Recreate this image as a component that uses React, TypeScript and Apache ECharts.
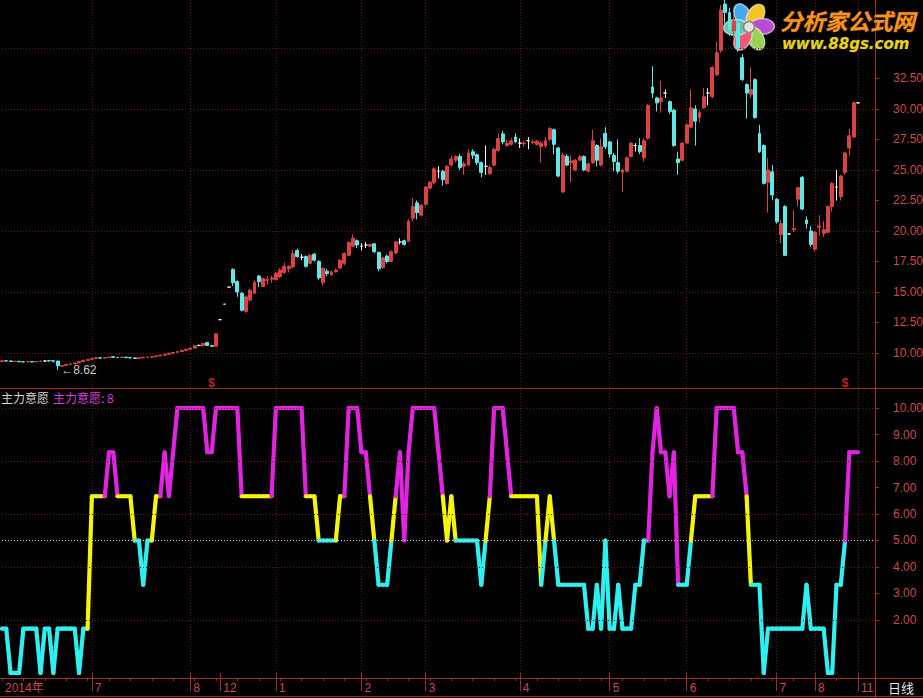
import React, { useEffect, useRef } from 'react';
import * as echarts from 'echarts';

// ---------------- data ----------------
const monthLabels = ['2014年', '7', '8', '12', '1', '2', '3', '4', '5', '6', '7', '8', '11'];
const monthBarCounts = [21, 23, 7, 13, 20, 15, 22, 21, 18, 21, 9, 10, 1];
const monthsWithoutGridLine = [0, 3];
const padBars = 4;

// [open, close, low, high]
const ohlc: number[][] = [
  // Jun 2014
  [9.30, 9.36, 9.28, 9.38], [9.36, 9.35, 9.30, 9.40], [9.35, 9.30, 9.26, 9.38], [9.30, 9.32, 9.25, 9.36],
  [9.32, 9.28, 9.24, 9.34], [9.28, 9.27, 9.23, 9.31], [9.27, 9.29, 9.24, 9.32], [9.29, 9.27, 9.25, 9.31],
  [9.27, 9.30, 9.25, 9.33], [9.30, 9.34, 9.28, 9.36], [9.34, 9.34, 9.26, 9.37], [9.38, 9.36, 9.28, 9.40],
  [9.36, 9.34, 9.22, 9.38], [9.34, 8.95, 8.62, 9.36], [8.92, 8.98, 8.85, 9.02], [8.98, 9.05, 8.94, 9.08],
  [9.05, 9.10, 9.00, 9.14], [9.10, 9.18, 9.06, 9.20], [9.18, 9.30, 9.15, 9.33], [9.30, 9.40, 9.28, 9.45],
  [9.40, 9.46, 9.36, 9.50],
  // Jul 2014
  [9.48, 9.55, 9.44, 9.58], [9.55, 9.60, 9.50, 9.64], [9.60, 9.58, 9.54, 9.66], [9.58, 9.62, 9.55, 9.66],
  [9.62, 9.66, 9.58, 9.70], [9.70, 9.64, 9.60, 9.72], [9.64, 9.63, 9.58, 9.68], [9.63, 9.66, 9.60, 9.70],
  [9.66, 9.62, 9.58, 9.68], [9.62, 9.60, 9.56, 9.65], [9.60, 9.55, 9.52, 9.63], [9.55, 9.60, 9.52, 9.62],
  [9.60, 9.65, 9.58, 9.68], [9.65, 9.66, 9.62, 9.70], [9.66, 9.70, 9.62, 9.72], [9.70, 9.76, 9.66, 9.78],
  [9.76, 9.82, 9.72, 9.85], [9.82, 9.90, 9.78, 9.93], [9.90, 9.98, 9.86, 10.02], [9.98, 10.05, 9.94, 10.08],
  [10.05, 10.12, 10.00, 10.16], [10.12, 10.22, 10.08, 10.26], [10.22, 10.30, 10.18, 10.34],
  // Aug 2014
  [10.30, 10.40, 10.26, 10.44], [10.40, 10.60, 10.36, 10.64], [10.62, 10.62, 10.55, 10.68], [10.60, 10.78, 10.55, 10.82],
  [10.85, 10.62, 10.58, 10.88], [10.62, 10.55, 10.50, 10.65], [10.55, 11.57, 10.52, 11.60],
  // Dec 2014
  [12.73, 12.73, 12.73, 12.73], [14.00, 14.00, 14.00, 14.00], [15.40, 15.40, 15.40, 15.40], [16.85, 15.75, 15.50, 16.94],
  [15.85, 15.00, 14.60, 15.95], [14.90, 13.50, 13.40, 15.00], [13.40, 14.60, 13.30, 14.70], [14.35, 15.15, 14.20, 15.25],
  [14.90, 15.80, 14.80, 15.95], [16.30, 15.85, 15.40, 16.40], [15.45, 16.10, 15.40, 16.20], [15.95, 16.00, 15.60, 16.30],
  [16.05, 16.15, 15.75, 16.35],
  // Jan 2015
  [16.00, 16.55, 15.95, 16.65], [16.25, 16.80, 16.15, 16.95], [16.60, 17.10, 16.50, 17.40], [16.90, 17.10, 16.60, 17.20],
  [17.05, 18.15, 17.00, 18.45], [18.40, 17.90, 17.80, 18.55], [17.85, 17.85, 17.60, 18.10], [17.90, 17.10, 17.00, 18.00],
  [17.35, 18.00, 17.30, 18.10], [18.10, 17.60, 17.50, 18.20], [17.50, 16.15, 16.00, 17.60], [15.75, 16.95, 15.50, 17.00],
  [16.70, 16.50, 16.30, 16.90], [16.40, 16.65, 16.30, 16.75], [16.65, 16.80, 16.60, 16.90], [16.95, 17.60, 16.90, 17.70],
  [17.35, 18.15, 17.20, 18.25], [18.00, 19.05, 17.95, 19.15], [18.75, 19.40, 18.70, 19.70], [19.20, 18.85, 18.60, 19.30],
  // Feb 2015
  [18.75, 18.75, 18.40, 19.00], [18.85, 18.85, 18.60, 19.10], [18.75, 18.90, 18.70, 18.95], [18.95, 18.30, 18.20, 19.00],
  [18.25, 16.90, 16.70, 18.30], [17.00, 17.80, 16.90, 17.90], [17.95, 17.50, 17.35, 18.05], [17.50, 18.30, 17.45, 18.40],
  [18.20, 19.10, 18.10, 19.20], [19.10, 19.10, 18.90, 19.40], [19.20, 18.90, 18.80, 19.30], [19.15, 20.80, 19.10, 20.95],
  [21.05, 22.00, 20.80, 22.70], [22.30, 21.50, 20.95, 22.50], [21.30, 22.10, 21.20, 22.20],
  // Mar 2015
  [22.20, 23.60, 22.00, 23.70], [23.50, 24.00, 23.40, 24.10], [23.95, 25.10, 23.80, 25.20], [24.90, 24.90, 24.30, 25.30],
  [24.90, 24.20, 23.70, 25.00], [23.90, 25.30, 23.80, 25.40], [25.40, 25.90, 25.30, 26.20], [25.80, 26.10, 25.60, 26.20],
  [26.10, 25.20, 25.00, 26.30], [25.30, 25.50, 24.60, 25.70], [25.40, 26.40, 25.30, 26.70], [26.50, 26.20, 25.90, 26.70],
  [26.25, 25.60, 25.40, 26.35], [25.60, 24.80, 24.40, 25.70], [25.30, 25.30, 24.60, 27.00], [24.70, 25.20, 24.60, 25.40],
  [25.40, 26.70, 25.30, 26.80], [26.60, 27.60, 26.50, 28.00], [27.95, 27.30, 27.10, 28.20], [27.00, 27.20, 26.90, 27.50],
  [27.10, 27.40, 27.00, 27.60], [27.70, 27.30, 27.20, 28.00],
  // Apr 2015
  [27.20, 27.20, 26.80, 27.60], [27.15, 27.20, 26.90, 27.40], [27.40, 27.40, 26.70, 27.70], [27.25, 27.30, 27.10, 27.50],
  [27.10, 27.35, 27.00, 27.45], [26.90, 27.20, 25.60, 27.35], [27.00, 27.40, 26.80, 27.70], [27.50, 28.40, 27.40, 28.50],
  [28.30, 27.10, 26.30, 28.40], [26.80, 24.50, 24.40, 26.90], [23.20, 26.20, 23.10, 26.40], [26.10, 25.40, 25.30, 26.30],
  [25.60, 25.75, 24.00, 26.20], [25.00, 25.80, 24.90, 25.90], [25.80, 26.10, 25.70, 26.20], [26.10, 25.00, 24.90, 26.20],
  [24.90, 25.50, 24.80, 25.60], [25.60, 27.40, 25.50, 28.30], [27.00, 25.80, 25.30, 27.10], [25.40, 26.90, 25.30, 27.60],
  [28.00, 26.90, 26.70, 28.50],
  // May 2015
  [27.30, 26.30, 26.00, 27.40], [26.20, 25.70, 24.90, 26.40], [25.60, 24.90, 24.70, 27.50], [24.80, 25.00, 23.20, 25.10],
  [24.90, 26.00, 24.80, 26.10], [26.10, 27.20, 26.00, 27.30], [27.00, 27.00, 26.50, 27.20], [27.00, 26.50, 26.30, 27.60],
  [26.00, 27.40, 25.70, 27.60], [27.60, 30.30, 27.50, 30.40], [31.80, 31.30, 30.90, 33.50], [30.90, 30.50, 29.80, 31.00],
  [30.60, 30.90, 29.70, 32.30], [31.30, 31.30, 30.90, 31.60], [30.60, 29.80, 29.60, 30.70], [29.90, 27.00, 26.90, 30.00],
  [25.90, 25.60, 24.60, 26.50], [25.80, 27.20, 25.70, 27.30],
  // Jun 2015
  [27.20, 28.70, 27.10, 28.80], [28.50, 30.10, 28.40, 31.60], [30.00, 29.00, 27.00, 30.30], [29.30, 29.70, 28.90, 29.90],
  [30.10, 31.00, 30.00, 31.70], [31.30, 31.30, 30.30, 31.70], [31.00, 33.40, 30.90, 33.50], [32.80, 34.60, 32.70, 35.50],
  [34.80, 38.10, 34.60, 38.50], [38.60, 37.90, 37.00, 39.20], [37.90, 36.50, 36.00, 38.30], [36.40, 37.20, 35.80, 37.80],
  [37.00, 35.00, 34.70, 37.40], [34.20, 32.40, 32.30, 34.50], [32.00, 31.30, 29.20, 32.10], [31.20, 31.60, 30.90, 33.40],
  [32.40, 29.30, 29.20, 32.50], [28.00, 26.50, 26.40, 28.70], [27.00, 23.90, 23.80, 27.10], [24.00, 25.00, 21.50, 26.00],
  [24.85, 22.95, 22.50, 25.40],
  // Jul 2015
  [22.60, 20.75, 20.60, 22.70], [19.70, 20.60, 19.00, 20.90], [22.00, 18.00, 17.95, 22.10], [19.75, 19.75, 19.70, 19.80],
  [20.10, 20.20, 19.90, 21.70], [22.60, 23.55, 22.00, 23.60], [24.40, 21.80, 21.70, 24.50], [20.90, 20.60, 20.20, 21.20],
  [20.00, 18.90, 18.70, 20.40],
  // Aug 2015
  [18.50, 19.90, 18.30, 20.00], [20.30, 20.40, 19.60, 21.30], [19.80, 20.10, 19.50, 20.80], [19.90, 22.00, 19.80, 22.10],
  [22.00, 23.90, 21.60, 24.00], [23.60, 23.60, 22.50, 25.00], [22.80, 24.50, 22.50, 24.60], [24.80, 26.40, 24.60, 26.50],
  [26.80, 27.80, 26.20, 28.40], [27.70, 30.50, 27.60, 30.60],
  // Nov 2015
  [30.50, 30.50, 30.45, 30.55],
];

// 主力意愿 indicator values
const will: number[] = [
  // Jun 2014
  1.67, 1.67, 0, 0, 0, 1.67, 1.67, 1.67, 1.67, 0, 1.67, 1.67, 0, 1.67, 1.67, 1.67, 1.67, 1.67, 0, 1.67, 1.67,
  // Jul 2014
  6.67, 6.67, 6.67, 6.67, 8.33, 8.33, 6.67, 6.67, 6.67, 6.67, 5, 5, 3.33, 5, 5, 6.67, 6.67, 8.33, 6.67, 8.33, 10, 10, 10,
  // Aug 2014
  10, 10, 10, 10, 8.33, 8.33, 10,
  // Dec 2014
  10, 10, 10, 10, 10, 6.67, 6.67, 6.67, 6.67, 6.67, 6.67, 6.67, 6.67,
  // Jan 2015
  10, 10, 10, 10, 10, 10, 10, 6.67, 6.67, 6.67, 5, 5, 5, 5, 5, 6.67, 6.67, 10, 10, 10,
  // Feb 2015
  8.33, 8.33, 6.67, 5, 3.33, 3.33, 3.33, 5, 6.67, 8.33, 5, 8.33, 10, 10, 10,
  // Mar 2015
  10, 10, 10, 8.33, 6.67, 5, 6.67, 5, 5, 5, 5, 5, 5, 3.33, 5, 6.67, 10, 10, 10, 8.33, 6.67, 6.67,
  // Apr 2015
  6.67, 6.67, 6.67, 6.67, 6.67, 3.33, 5, 6.67, 5, 3.33, 3.33, 3.33, 3.33, 3.33, 3.33, 3.33, 1.67, 1.67, 3.33, 1.67, 5,
  // May 2015
  1.67, 1.67, 3.33, 1.67, 1.67, 1.67, 3.33, 3.33, 5, 5, 8.33, 10, 8.33, 8.33, 6.67, 8.33, 3.33, 3.33,
  // Jun 2015
  3.33, 5, 6.67, 6.67, 6.67, 6.67, 6.67, 10, 10, 10, 10, 10, 8.33, 8.33, 6.67, 3.33, 3.33, 3.33, 0, 1.67, 1.67,
  // Jul 2015
  1.67, 1.67, 1.67, 1.67, 1.67, 1.67, 1.67, 3.33, 1.67,
  // Aug 2015
  1.67, 1.67, 1.67, 0, 0, 3.33, 3.33, 5, 8.33, 8.33,
  // Nov 2015
  8.33,
];

const priceLabels = [10, 12.5, 15, 17.5, 20, 22.5, 25, 27.5, 30, 32.5];
const priceGridValues = [10, 15, 20, 25, 30, 35];
const willLabels = [2, 3, 4, 5, 6, 7, 8, 9, 10];
const willGridValues = [2, 4, 6, 8, 10];
const willMidValue = 5;
const lowMark = { bar: 13, price: 8.62 };
const signalBars = [49, 197];
const indicatorName = '主力意愿';

// ---------------- styles ----------------
const RED_UP = '#da4343';
const CYAN_DN = '#62e6e6';
const DOJI = '#f2f2f2';
const AXIS_RED = '#a32b2b';
const GRID_RED = '#5e1a1a';
const LABEL_RED = '#c84c48';
const L_CYAN = '#2ef0f0';
const L_YELLOW = '#f6f600';
const L_MAGENTA = '#e223e2';
const FONT = '"Liberation Sans", "Noto Sans CJK SC", sans-serif';

export default function App() {
  const ref = useRef<HTMLDivElement>(null);

  useEffect(() => {
    if (!ref.current) return;
    const chart = echarts.init(ref.current, undefined, { renderer: 'svg' });

    const starts: number[] = [];
    let acc = 0;
    for (const c of monthBarCounts) {
      starts.push(acc);
      acc += c;
    }
    const nBars = ohlc.length;
    const cats = Array.from({ length: nBars + padBars }, (_, i) => String(i));
    const labelAt = new Map<number, string>();
    starts.forEach((s, k) => labelAt.set(s, monthLabels[k]));
    const dividers = new Set(starts.filter((_, k) => k > 0));
    const gridLines = new Set(starts.filter((_, k) => !monthsWithoutGridLine.includes(k)));

    const candleData = ohlc.map(([o, c, l, h]) =>
      o === c
        ? { value: [o, c, l, h], itemStyle: { color: DOJI, color0: DOJI, borderColor: DOJI, borderColor0: DOJI, borderColorDoji: DOJI } }
        : [o, c, l, h]
    );
    const segs = will.slice(1).map((v, k) => [k + 1, will[k], v]);
    const lastWill = will[will.length - 1];

    const dotted = { color: GRID_RED, type: [1, 2] as any, width: 1 };

    const baseX = (gridIndex: number) => ({
      type: 'category',
      gridIndex,
      data: cats,
      boundaryGap: false,
      axisLine: { show: false },
      axisTick: { show: false },
      axisLabel: { show: false },
      splitLine: { show: true, interval: (i: number) => gridLines.has(i), lineStyle: dotted },
    });

    const petals = [
      { a: -28, fill: '#46a7ee' },
      { a: 30, fill: '#f5c423' },
      { a: 88, fill: '#b84dd2' },
      { a: 150, fill: '#98d450' },
      { a: 208, fill: '#ee5a7c' },
      { a: 268, fill: '#64c6a4' },
    ];

    const option: any = {
      animation: false,
      backgroundColor: '#000',
      grid: [
        { left: 2, right: 48, top: 0, height: 388, outerBoundsMode: 'none', containLabel: false },
        { left: 2, right: 48, top: 390, height: 288, outerBoundsMode: 'none', containLabel: false },
      ],
      xAxis: [
        baseX(0),
        {
          ...baseX(1),
          axisTick: { show: true, interval: (i: number) => dividers.has(i), length: 18, lineStyle: { color: AXIS_RED } },
          axisLabel: {
            show: true,
            interval: (i: number) => labelAt.has(i),
            formatter: (v: string) => labelAt.get(Number(v)) ?? '',
            align: 'left',
            padding: [0, 0, 0, 3],
            margin: 4,
            color: LABEL_RED,
            fontSize: 12,
            fontFamily: FONT,
          },
        },
        {
          type: 'category',
          gridIndex: 1,
          data: cats,
          boundaryGap: false,
          position: 'bottom',
          axisLine: { show: false },
          axisTick: { show: true, interval: 4, length: 3, lineStyle: { color: AXIS_RED } },
          axisLabel: { show: false },
          splitLine: { show: false },
        },
      ],
      yAxis: [
        {
          type: 'value',
          gridIndex: 0,
          position: 'right',
          min: 7.13,
          max: 38.93,
          axisLine: { show: true, lineStyle: { color: AXIS_RED } },
          axisTick: { show: true, length: 4, customValues: priceLabels, lineStyle: { color: AXIS_RED } },
          axisLabel: {
            customValues: priceLabels,
            formatter: (v: number) => v.toFixed(2),
            margin: 18,
            color: LABEL_RED,
            fontSize: 12,
            fontFamily: FONT,
          },
          splitLine: { show: false },
        },
        {
          type: 'value',
          gridIndex: 1,
          position: 'right',
          min: -0.19,
          max: 10.68,
          axisLine: { show: true, lineStyle: { color: AXIS_RED } },
          axisTick: { show: true, length: 4, customValues: willLabels, lineStyle: { color: AXIS_RED } },
          axisLabel: {
            customValues: willLabels,
            formatter: (v: number) => v.toFixed(2),
            margin: 18,
            color: LABEL_RED,
            fontSize: 12,
            fontFamily: FONT,
          },
          splitLine: { show: false },
        },
      ],
      series: [
        {
          type: 'candlestick',
          xAxisIndex: 0,
          yAxisIndex: 0,
          data: candleData,
          barWidth: 3.4,
          clip: false,
          z: 3,
          itemStyle: {
            color: RED_UP,
            color0: CYAN_DN,
            borderColor: RED_UP,
            borderColor0: CYAN_DN,
            borderColorDoji: DOJI,
            borderWidth: 1,
          },
          markLine: {
            silent: true,
            symbol: ['none', 'none'],
            label: { show: false },
            lineStyle: dotted,
            z: 1,
            data: priceGridValues.map((v) => ({ yAxis: v })),
          },
          markPoint: {
            symbol: 'circle',
            symbolSize: 1,
            itemStyle: { color: 'rgba(0,0,0,0)' },
            label: {
              show: true,
              position: 'right',
              distance: 3,
              formatter: (p: any) => '←' + Number(p.value).toFixed(2),
              color: '#c9c9c9',
              fontSize: 12,
              fontFamily: FONT,
            },
            data: [{ coord: [lowMark.bar, lowMark.price], value: lowMark.price }],
          },
        },
        {
          type: 'scatter',
          xAxisIndex: 0,
          yAxisIndex: 0,
          data: signalBars.map((b) => [b, 7.55]),
          symbolSize: 1,
          itemStyle: { color: 'rgba(0,0,0,0)' },
          z: 4,
          label: {
            show: true,
            position: 'inside',
            formatter: '$',
            color: '#e23030',
            fontSize: 12,
            fontWeight: 'bold',
            fontFamily: FONT,
          },
        },
        {
          type: 'line',
          xAxisIndex: 1,
          yAxisIndex: 1,
          data: will,
          symbol: 'none',
          silent: true,
          z: 1,
          lineStyle: { width: 0, opacity: 0 },
          markLine: {
            silent: true,
            symbol: ['none', 'none'],
            label: { show: false },
            lineStyle: dotted,
            data: [
              ...willGridValues.map((v) => ({ yAxis: v })),
              { yAxis: willMidValue, lineStyle: { color: '#d6d6d6', type: [1, 2], width: 1 } },
            ],
          },
        },
        {
          type: 'custom',
          xAxisIndex: 1,
          yAxisIndex: 1,
          data: segs,
          encode: { x: 0, y: 2 },
          z: 3,
          renderItem: (params: any, api: any) => {
            const i = params.dataIndex + 1;
            const a = api.value(1) as number;
            const b = api.value(2) as number;
            const p0 = api.coord([i - 1, a]);
            const p1 = api.coord([i, b]);
            const m = Math.max(a, b);
            const color = m > 7 ? L_MAGENTA : m > 5.5 ? L_YELLOW : L_CYAN;
            return {
              type: 'line',
              shape: { x1: p0[0], y1: p0[1], x2: p1[0], y2: p1[1] },
              style: { stroke: color, lineWidth: 4.2, lineCap: 'round' },
            };
          },
        },
      ],
      graphic: [
        { type: 'line', shape: { x1: 0, y1: 388.5, x2: 923, y2: 388.5 }, style: { stroke: AXIS_RED, lineWidth: 1 }, z: 10 },
        { type: 'line', shape: { x1: 0, y1: 678.5, x2: 923, y2: 678.5 }, style: { stroke: AXIS_RED, lineWidth: 1 }, z: 10 },
        { type: 'line', shape: { x1: 0, y1: 696.5, x2: 923, y2: 696.5 }, style: { stroke: AXIS_RED, lineWidth: 1 }, z: 10 },
        { type: 'line', shape: { x1: 875.5, y1: 0, x2: 875.5, y2: 698 }, style: { stroke: AXIS_RED, lineWidth: 1 }, z: 10 },
        {
          type: 'text', x: 1, y: 397, z: 10,
          style: { text: indicatorName, fill: '#d6d6d6', font: '12px "Noto Sans CJK SC"', verticalAlign: 'middle' },
        },
        {
          type: 'text', x: 53, y: 397, z: 10,
          style: { text: `${indicatorName}: ${Math.floor(lastWill)}`, fill: '#dc3edc', font: '12px "Noto Sans CJK SC"', verticalAlign: 'middle' },
        },
        {
          type: 'text', x: 888, y: 687, z: 10,
          style: { text: '日线', fill: '#e4e4e4', font: '13px "Noto Sans CJK SC"', verticalAlign: 'middle' },
        },
        {
          type: 'group',
          x: 749,
          y: 27,
          z: 20,
          children: [
            ...petals.map((p) => ({
              type: 'ellipse',
              shape: { cx: 0, cy: -13, rx: 8, ry: 12.5 },
              rotation: (-p.a * Math.PI) / 180,
              style: { fill: p.fill, stroke: 'rgba(255,255,255,0.55)', lineWidth: 1.5 },
            })),
            { type: 'circle', shape: { cx: 0, cy: 0, r: 5.5 }, style: { fill: '#e6e6e6', stroke: '#8a8a8a', lineWidth: 1.5 } },
          ],
        },
        {
          type: 'text', x: 780, y: 20, z: 20,
          style: {
            text: '分析家公式网',
            fill: '#f2951e',
            stroke: '#6a2c00',
            lineWidth: 1,
            font: 'italic bold 22.5px "Noto Sans CJK SC"',
            verticalAlign: 'middle',
          },
        },
        {
          type: 'text', x: 782, y: 44, z: 20,
          style: {
            text: 'www.88gs.com',
            fill: '#e6d41e',
            stroke: '#5a4a00',
            lineWidth: 0.6,
            font: 'italic bold 15px "DejaVu Sans"',
            verticalAlign: 'middle',
          },
        },
      ],
    };

    chart.setOption(option);
    return () => chart.dispose();
  }, []);

  return (
    <div
      ref={ref}
      style={{ position: 'fixed', left: 0, top: 0, width: 923, height: 698, background: '#000' }}
    />
  );
}
